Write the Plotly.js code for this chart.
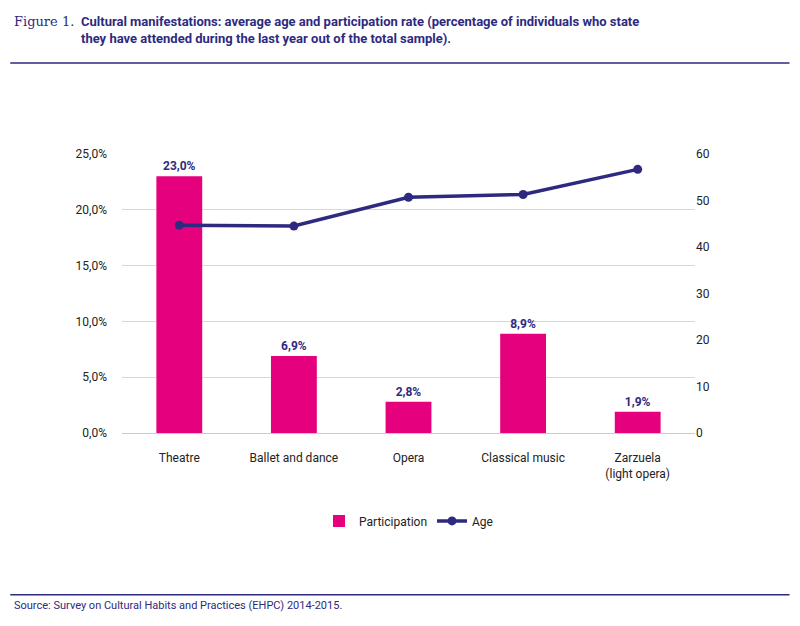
<!DOCTYPE html>
<html>
<head>
<meta charset="utf-8">
<script src="https://cdn.plot.ly/plotly-3.0.1.min.js"></script>
<style>body{margin:0;background:#fff}</style>
</head>
<body>
<div id="chart" style="width:800px;height:626px"></div>
<script>
// values
const categories = ['Theatre', 'Ballet and dance', 'Opera', 'Classical music', 'Zarzuela<br>(light opera)'];
const participation = [23.0, 6.9, 2.8, 8.9, 1.9];
const participationLabels = ['<b>23,0%</b>', '<b>6,9%</b>', '<b>2,8%</b>', '<b>8,9%</b>', '<b>1,9%</b>'];
const age = [44.7, 44.5, 50.7, 51.3, 56.7];
const leftTicks = [0, 5, 10, 15, 20, 25];
const leftTickText = ['0,0%', '5,0%', '10,0%', '15,0%', '20,0%', '25,0%'];

const navy = '#2e2a80';
const pink = '#e5007d';

const bars = {
  x: categories, y: participation, type: 'bar', name: 'Participation',
  marker: { color: pink }, width: 0.4,
  text: participationLabels, textposition: 'outside', cliponaxis: false,
  textfont: { color: navy, size: 12, family: 'Roboto, Arial' }
};
const line = {
  x: categories, y: age, yaxis: 'y2', type: 'scatter', mode: 'lines+markers', name: 'Age',
  line: { color: navy, width: 3.5 }, marker: { color: navy, size: 9 }
};

const layout = {
  width: 800, height: 626,
  margin: { l: 122, r: 105, t: 154, b: 193 },
  paper_bgcolor: '#fff', plot_bgcolor: '#fff',
  font: { family: 'Roboto, Arial', size: 12, color: '#222' },
  showlegend: true,
  legend: { orientation: 'h', x: 0.5, xanchor: 'center', y: -0.315, yanchor: 'middle',
    font: { size: 12 }, traceorder: 'normal' },
  xaxis: { showgrid: false, showline: true, linecolor: '#c8c8dc', ticks: '', tickfont: { size: 12 }, ticklabelstandoff: 14 },
  yaxis: { range: [0, 25], tickvals: leftTicks, ticktext: leftTickText, gridcolor: '#d6d6e6',
    zeroline: false, ticks: '', tickfont: { size: 12 }, ticklabelstandoff: 14 },
  yaxis2: { range: [0, 60], dtick: 10, overlaying: 'y', side: 'right', showgrid: false,
    zeroline: false, tickfont: { size: 12 } },
  shapes: [
    { type: 'line', xref: 'paper', yref: 'paper', x0: -0.195, x1: 1.165, y0: 1.326, y1: 1.326, line: { color: navy, width: 1.5 } },
    { type: 'line', xref: 'paper', yref: 'paper', x0: -0.195, x1: 1.165, y0: -0.58, y1: -0.58, line: { color: navy, width: 1.5 } }
  ],
  annotations: [
    { xref: 'paper', yref: 'paper', x: -0.192, y: 1.51, xanchor: 'left', yanchor: 'top', showarrow: false,
      text: 'Figure 1.', font: { family: 'DejaVu Serif, serif', size: 13, color: navy } },
    { xref: 'paper', yref: 'paper', x: -0.075, y: 1.51, xanchor: 'left', yanchor: 'top', showarrow: false, align: 'left',
      text: '<b>Cultural manifestations: average age and participation rate (percentage of individuals who state<br>they have attended during the last year out of the total sample).</b>',
      font: { family: 'Roboto, Arial', size: 13, color: navy } },
    { xref: 'paper', yref: 'paper', x: -0.192, y: -0.62, xanchor: 'left', yanchor: 'middle', showarrow: false,
      text: 'Source: Survey on Cultural Habits and Practices (EHPC) 2014-2015.',
      font: { family: 'Roboto, Arial', size: 11, color: navy } }
  ]
};

Plotly.newPlot('chart', [bars, line], layout, { displayModeBar: false });
</script>
</body>
</html>
